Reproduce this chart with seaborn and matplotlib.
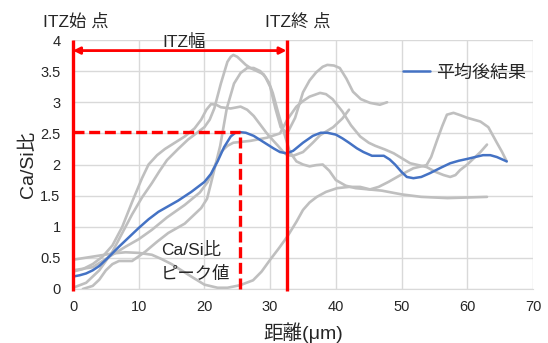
import matplotlib
matplotlib.use("Agg")
import matplotlib.pyplot as plt
import seaborn as sns
import pandas as pd

# ---- data: Ca/Si ratio vs distance from aggregate surface ----
avg_x = [0, 1, 2, 3, 4, 5.3, 7, 8.5, 10, 11.5, 13, 14.5, 16, 18, 20, 21, 22, 23, 24, 24.7,
         25.4, 26.3, 27.5, 29, 30.5, 31.5, 32.5, 33.5, 35, 36.5, 37.7, 38.7, 40, 41, 42,
         43.2, 44.2, 45.5, 46.5, 47.3, 48.2, 49, 50, 50.8, 51.8, 53, 54.3, 56, 57.4, 58.7,
         60, 61.2, 62.4, 63.5, 64.5, 66]
avg_y = [0.2, 0.22, 0.25, 0.3, 0.37, 0.5, 0.68, 0.83, 0.98, 1.12, 1.24, 1.33, 1.42, 1.56,
         1.72, 1.85, 2.05, 2.28, 2.45, 2.51, 2.52, 2.51, 2.46, 2.36, 2.26, 2.2, 2.18, 2.22,
         2.35, 2.46, 2.51, 2.51, 2.48, 2.42, 2.35, 2.26, 2.2, 2.14, 2.14, 2.14, 2.08, 2.0,
         1.88, 1.8, 1.78, 1.8, 1.86, 1.95, 2.02, 2.06, 2.09, 2.12, 2.15, 2.15, 2.12, 2.05]

s1_x = [0, 1.5, 3, 4.5, 6, 7.5, 9, 10.5, 11.5, 12.8, 14, 15.5, 17, 18.5, 19.5, 20.3, 21,
        21.8, 22.5, 24, 25.5, 26.5, 27.5, 28.5, 29.5, 30.5, 31.2, 32, 32.6, 33.5, 35, 36.5,
        37.6, 39.6, 41, 42]
s1_y = [0.28, 0.32, 0.4, 0.52, 0.7, 1.0, 1.4, 1.78, 2.0, 2.15, 2.25, 2.35, 2.45, 2.58,
        2.72, 2.88, 2.97, 2.96, 2.92, 2.9, 2.93, 2.88, 2.78, 2.64, 2.5, 2.38, 2.3, 2.2,
        2.15, 2.14, 2.2, 2.35, 2.47, 2.6, 2.74, 2.88]

s2_x = [0, 2, 4, 6, 7.5, 9, 10.5, 12, 13.2, 14.3, 16, 17.5, 19, 20, 20.8, 21.5, 22.5, 23.5,
        24, 24.4, 25, 25.5, 26.3, 27, 28, 29, 29.8, 30.4, 31.2, 32, 33, 34, 35, 36, 37, 38,
        39, 40, 41.5, 43, 45, 47, 50, 53, 57, 60, 63]
s2_y = [0.02, 0.1, 0.3, 0.6, 0.9, 1.2, 1.47, 1.7, 1.9, 2.07, 2.25, 2.4, 2.52, 2.6, 2.72,
        2.9, 3.3, 3.65, 3.73, 3.76, 3.73, 3.68, 3.6, 3.55, 3.5, 3.45, 3.32, 3.15, 2.84, 2.55,
        2.2, 2.05, 2.0, 1.97, 1.99, 2.0, 1.9, 1.75, 1.66, 1.62, 1.6, 1.58, 1.52, 1.48, 1.46,
        1.47, 1.48]

s3_x = [1.5, 3, 4, 5, 6, 7, 9, 11, 12.8, 14.5, 17, 19.5, 20.4, 21, 21.7, 22.4, 23.4, 24.5,
        25.5, 26.5, 27.5, 28.5, 29.3, 30, 30.8, 31.6, 32.6, 33.8, 35, 36, 37, 38, 38.7,
        39.7, 40.6, 41.6, 42.6, 43.8, 45.2, 46.7, 47.8]
s3_y = [0, 0.05, 0.15, 0.3, 0.4, 0.45, 0.45, 0.6, 0.76, 0.9, 1.05, 1.3, 1.45, 1.7, 2.0,
        2.3, 2.9, 3.3, 3.47, 3.55, 3.55, 3.5, 3.4, 3.25, 2.9, 2.6, 2.5, 2.75, 3.16, 3.35,
        3.48, 3.57, 3.6, 3.59, 3.55, 3.38, 3.17, 3.05, 2.99, 2.96, 3.0]

s4_x = [0, 3, 6, 8, 10, 12, 14.3, 17, 19.3, 20.5, 21.3, 22.5, 23.5, 24.4, 27, 29.5, 31.5,
        32.6, 34, 35, 36, 37.6, 38.5, 39.5, 41, 42.3, 43.7, 45, 46, 47.5, 48.8, 51.3, 53.8,
        55.2, 56.4, 57.4, 58.2, 58.9, 60, 61, 62, 63]
s4_y = [0.3, 0.35, 0.55, 0.68, 0.8, 0.95, 1.15, 1.35, 1.55, 1.72, 1.91, 2.2, 2.3, 2.35, 2.38,
        2.43, 2.5, 2.72, 2.93, 3.02, 3.09, 3.15, 3.13, 3.05, 2.85, 2.63, 2.45, 2.35, 2.3,
        2.24, 2.18, 2.02, 1.96, 1.88, 1.83, 1.8, 1.83, 1.91, 2.0, 2.1, 2.2, 2.32]

s5_x = [0, 3, 6, 8, 10, 12, 13.5, 15, 16.5, 18, 20, 22, 23.5, 25.4, 27.4, 28.7, 30, 31.3,
        32.6, 34, 35, 36, 37.1, 38.5, 40.2, 42, 43.7, 45.2, 46.5, 48, 50, 51.8, 53.8, 54.5,
        55.4, 56.2, 56.9, 57.9, 59, 60, 61, 62, 63.2, 64.5, 65.3, 66]
s5_y = [0.47, 0.52, 0.57, 0.59, 0.58, 0.55, 0.48, 0.4, 0.3, 0.2, 0.07, 0.02, 0.02, 0.06, 0.14,
        0.28, 0.47, 0.65, 0.84, 1.08, 1.27, 1.39, 1.48, 1.56, 1.62, 1.64, 1.64, 1.6, 1.64,
        1.72, 1.84, 1.94, 1.99, 2.12, 2.39, 2.62, 2.8, 2.83, 2.79, 2.75, 2.72, 2.69, 2.6,
        2.35, 2.2, 2.05]

grey_series = [(s1_x, s1_y), (s2_x, s2_y), (s3_x, s3_y), (s4_x, s4_y), (s5_x, s5_y)]

itz_start = 0
itz_end = 32.5
x_ticks = [0, 10, 20, 30, 40, 50, 60, 70]
y_ticks = [0, 0.5, 1, 1.5, 2, 2.5, 3, 3.5, 4]

# ---- style ----
sns.set_style("white")
FONT = ["Liberation Sans", "Noto Sans CJK JP"]
plt.rcParams["font.family"] = FONT

W, H = 548, 343
fig = plt.figure(figsize=(W / 100, H / 100), dpi=100)
L, R, T, B = 73, 533, 40, 289
ax = fig.add_axes([L / W, 1 - B / H, (R - L) / W, (B - T) / H])

GREY = "#BFBFBF"
BLUE = "#4472C4"
RED = "#FF0000"
TXT = "#262626"

for gx, gy in grey_series:
    df = pd.DataFrame({"x": gx, "y": gy})
    sns.lineplot(data=df, x="x", y="y", ax=ax, color=GREY, linewidth=1.9,
                 sort=False, legend=False, zorder=2)

avg_df = pd.DataFrame({"x": avg_x, "y": avg_y})
sns.lineplot(data=avg_df, x="x", y="y", ax=ax, color=BLUE, linewidth=1.8,
             sort=False, label="平均後結果", zorder=4)

ax.set_xlim(0, 70)
ax.set_ylim(0, 4)
ax.set_xticks(x_ticks)
ax.set_yticks(y_ticks)
ax.set_yticklabels([f"{v:g}" for v in y_ticks])
ax.grid(True, color="#D9D9D9", linewidth=1.0)
ax.set_axisbelow(True)
for side in ["top", "right", "left"]:
    ax.spines[side].set_visible(False)
ax.spines["bottom"].set_color("#D9D9D9")
ax.tick_params(axis="both", length=0, labelsize=10.5, colors=TXT)
ax.tick_params(axis="x", pad=8)
ax.tick_params(axis="y", pad=9)

ax.set_xlabel("距離(μm)", fontsize=14, color=TXT, labelpad=6)
ax.set_ylabel("Ca/Si比", fontsize=14, color=TXT, labelpad=2)

# ---- ITZ annotations ----
peak_i = max(range(len(avg_y)), key=lambda i: avg_y[i])
peak_x, peak_y = avg_x[peak_i], avg_y[peak_i]

for xv in (itz_start, itz_end):
    ax.plot([xv, xv], [-0.03, 4.0], color=RED, linewidth=2.4, clip_on=False,
            solid_capstyle="butt", zorder=5)

ax.plot([itz_start, peak_x], [peak_y, peak_y], color=RED, linewidth=2.4,
        dashes=(3.3, 1.4), zorder=5, clip_on=False)
ax.plot([peak_x, peak_x], [0, peak_y], color=RED, linewidth=2.4,
        dashes=(3.3, 1.4), zorder=5, clip_on=False)

ax.annotate("", xy=(itz_start, 3.83), xytext=(itz_end, 3.83),
            arrowprops=dict(arrowstyle="<|-|>", color=RED, lw=2.0,
                            mutation_scale=10, shrinkA=0, shrinkB=0),
            zorder=6)

def px(xp, yp):
    return xp / W, 1 - yp / H

fig.text(*px(43, 21.5), "ITZ始 点", fontsize=12.5, va="center", ha="left", color=TXT)
fig.text(*px(265, 21.5), "ITZ終 点", fontsize=12.5, va="center", ha="left", color=TXT)
fig.text(*px(184, 42), "ITZ幅", fontsize=12.5, va="center", ha="center", color=TXT)
fig.text(*px(161, 250), "Ca/Si比", fontsize=12.5, va="center", ha="left", color=TXT)
fig.text(*px(161, 274), "ピーク値", fontsize=12.5, va="center", ha="left", color=TXT)

leg = ax.legend(loc="upper right", bbox_to_anchor=(1.0, 0.93), frameon=False,
                fontsize=13, handlelength=1.5, handletextpad=0.3, borderaxespad=0)
for t in leg.get_texts():
    t.set_color(TXT)

fig.savefig("out.png", dpi=100)
